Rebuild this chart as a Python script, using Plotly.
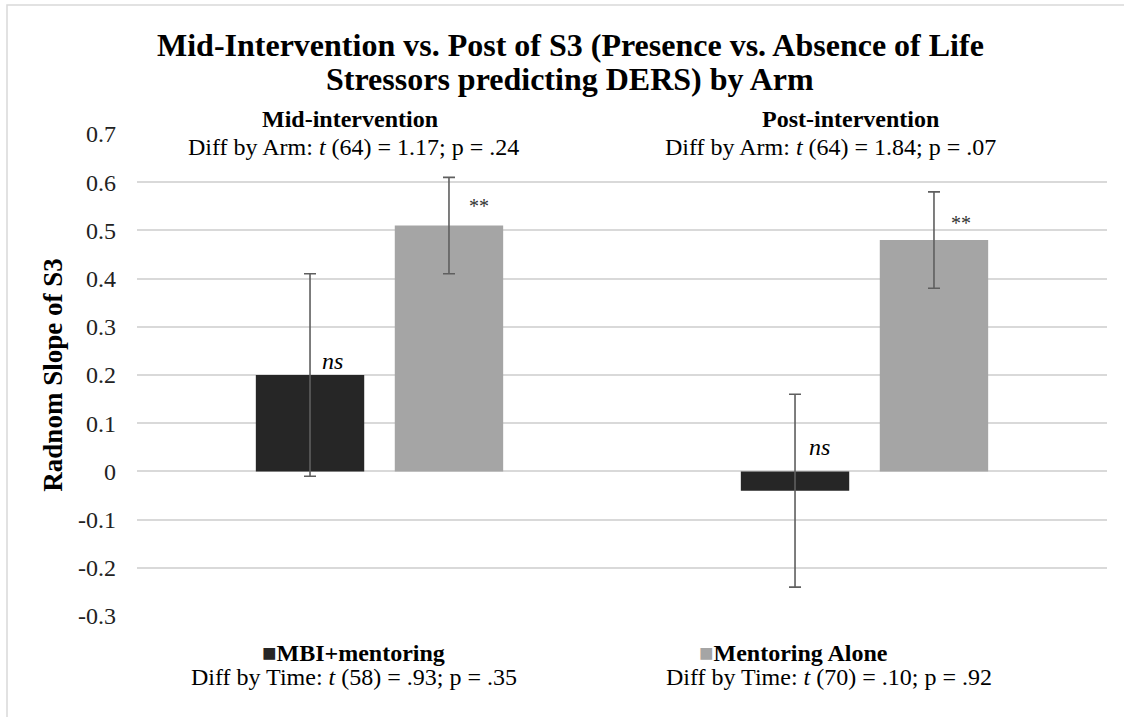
import plotly.graph_objects as go

# ---- data -----------------------------------------------------------------
TIMEPOINTS = ["Mid-intervention", "Post-intervention"]
SERIES = ["MBI+mentoring", "Mentoring Alone"]

MBI_SLOPE = [0.20, -0.04]
MBI_ERR = [0.21, 0.20]
MENTOR_SLOPE = [0.51, 0.48]
MENTOR_ERR = [0.10, 0.10]

MBI_SIG = ["ns", "ns"]
MENTOR_SIG = ["**", "**"]

ARM_TESTS = [
    "Diff by Arm: <i>t</i> (64) = 1.17; p = .24",
    "Diff by Arm: <i>t</i> (64) = 1.84; p = .07",
]
TIME_TESTS = [
    "Diff by Time: <i>t</i> (58) = .93; p = .35",
    "Diff by Time: <i>t</i> (70) = .10; p = .92",
]

TICK_VALUES = [0.7, 0.6, 0.5, 0.4, 0.3, 0.2, 0.1, 0, -0.1, -0.2, -0.3]
TICK_TEXT = ["0.7", "0.6", "0.5", "0.4", "0.3", "0.2", "0.1", "0", "-0.1", "-0.2", "-0.3"]

TITLE_LINES = [
    "Mid-Intervention vs. Post of S3 (Presence vs. Absence of Life",
    "Stressors predicting DERS) by Arm",
]
Y_TITLE = "Radnom Slope of S3"

# ---- style ----------------------------------------------------------------
W, H = 1124, 717
ML, MR, MT, MB = 137, 17, 134, 101
PW, PH = W - ML - MR, H - MT - MB
COLORS = ["#262626", "#a5a5a5"]
GRID = "#d9d9d9"
ERRCOL = "#5f5f5f"
FONT = "Liberation Serif"


def px(x):
    return (x - ML) / PW


def py(y):
    return (H - MB - y) / PH


fig = go.Figure()
for name, vals, errs, color in [
    (SERIES[0], MBI_SLOPE, MBI_ERR, COLORS[0]),
    (SERIES[1], MENTOR_SLOPE, MENTOR_ERR, COLORS[1]),
]:
    fig.add_trace(go.Bar(
        x=TIMEPOINTS, y=vals, name=name,
        marker=dict(color=color, line=dict(width=0)),
        error_y=dict(type="data", array=errs, visible=True,
                     color=ERRCOL, thickness=1.6, width=6),
        showlegend=False,
    ))

annotations = []

# significance markers next to each bar
sig_place = {
    "MBI": [(-47, 0.23), (-45, 0.05)],
    "MENTOR": [(99, 0.55), (96, 0.515)],
}
for i, cat in enumerate(TIMEPOINTS):
    dx, yv = sig_place["MBI"][i]
    annotations.append(dict(x=cat, y=yv, xref="x", yref="y", xshift=dx,
                            text=f"<i>{MBI_SIG[i]}</i>", showarrow=False,
                            font=dict(family=FONT, size=24, color="#000")))
    dx, yv = sig_place["MENTOR"][i]
    annotations.append(dict(x=cat, y=yv, xref="x", yref="y", xshift=dx,
                            text=MENTOR_SIG[i], showarrow=False,
                            font=dict(family=FONT, size=20, color="#333")))

# chart title, two centred lines
for text, ypix in zip(TITLE_LINES, [45, 79]):
    annotations.append(dict(x=px(570), y=py(ypix), xref="paper", yref="paper",
                            text=f"<b>{text}</b>", showarrow=False,
                            xanchor="center", yanchor="middle",
                            font=dict(family=FONT, size=32, color="#000")))

# timepoint headers with between-arm tests
for cat, test, hx, tx in zip(TIMEPOINTS, ARM_TESTS, [350, 850], [353, 830]):
    annotations.append(dict(x=px(hx), y=py(119), xref="paper", yref="paper",
                            text=f"<b>{cat}</b>", showarrow=False,
                            xanchor="center", yanchor="middle",
                            font=dict(family=FONT, size=24, color="#000")))
    annotations.append(dict(x=px(tx), y=py(147), xref="paper", yref="paper",
                            text=test, showarrow=False,
                            xanchor="center", yanchor="middle",
                            font=dict(family=FONT, size=24, color="#000")))

# series keys with within-arm tests
for name, color, test, kx, tx in zip(SERIES, COLORS, TIME_TESTS, [260, 697], [354, 829]):
    annotations.append(dict(x=px(kx), y=py(653), xref="paper", yref="paper",
                            text=f"<span style='color:{color}'>■</span><b>{name}</b>",
                            showarrow=False, xanchor="left", yanchor="middle",
                            font=dict(family=FONT, size=24, color="#000")))
    annotations.append(dict(x=px(tx), y=py(677), xref="paper", yref="paper",
                            text=test, showarrow=False,
                            xanchor="center", yanchor="middle",
                            font=dict(family=FONT, size=24, color="#000")))

fig.update_layout(
    width=W, height=H,
    margin=dict(l=ML, r=MR, t=MT, b=MB, pad=0),
    paper_bgcolor="white", plot_bgcolor="white",
    barmode="group", bargap=0.427, bargroupgap=0.22,
    font=dict(family=FONT, size=24, color="#000"),
    annotations=annotations,
    shapes=[dict(type="rect", xref="paper", yref="paper",
                 x0=px(7), x1=px(1140), y0=py(730), y1=py(5),
                 line=dict(color=GRID, width=1.5), layer="below")],
)
fig.update_xaxes(showticklabels=False, showgrid=False, zeroline=False,
                 showline=False, ticks="")
fig.update_yaxes(range=[-0.3, 0.7], tickvals=TICK_VALUES, ticktext=TICK_TEXT,
                 showgrid=True, gridcolor=GRID, gridwidth=2,
                 zeroline=True, zerolinecolor=GRID, zerolinewidth=2,
                 showline=False, ticks="", ticklabelstandoff=20,
                 tickfont=dict(family=FONT, size=24, color="#222"),
                 title=dict(text=f"<b>{Y_TITLE}</b>", standoff=7,
                            font=dict(family=FONT, size=27, color="#000")))

fig.write_html("out.html")
